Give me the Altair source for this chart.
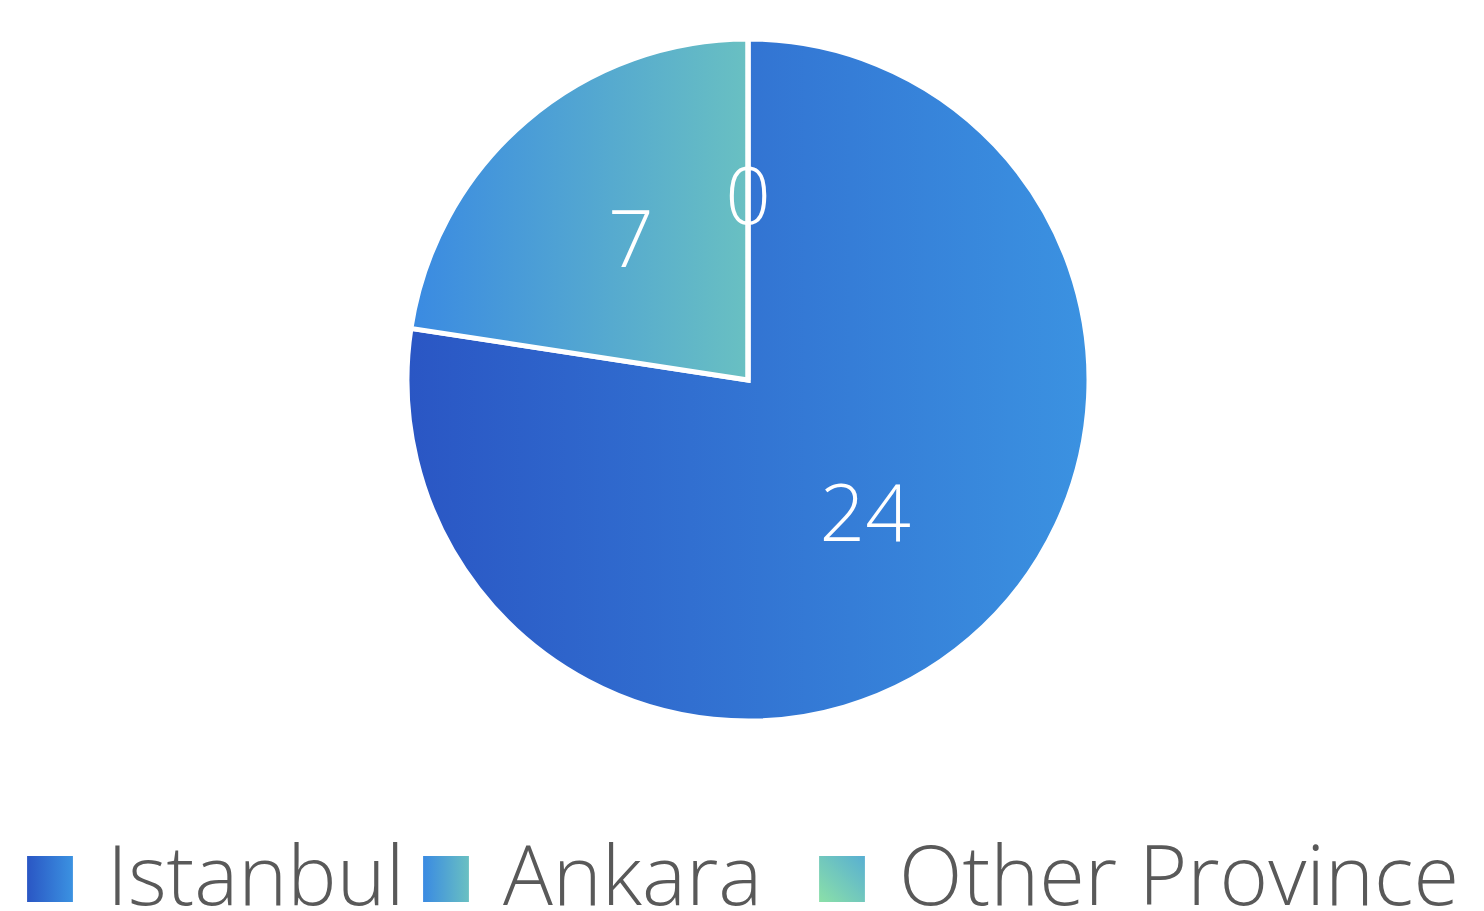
import altair as alt
import pandas as pd

categories = ["Istanbul", "Ankara", "Other Province"]
values = [24, 7, 0]
order = [1, 2, 3]

df = pd.DataFrame({"cat": categories, "value": values, "ord": order})


def grad(c0, c1, x1=0, y1=0, x2=1, y2=0):
    return {"gradient": "linear", "x1": x1, "y1": y1, "x2": x2, "y2": y2,
            "stops": [{"offset": 0, "color": c0}, {"offset": 1, "color": c1}]}


g_ist = grad("#2A56C4", "#3B92E1")
g_ank = grad("#3A8AE2", "#69C0C2")
g_oth = grad("#8BE0A8", "#58AFD2", 0, 1, 1, 0)

fill_rule = (alt.when(alt.datum.cat == "Istanbul").then(alt.value(g_ist))
             .when(alt.datum.cat == "Ankara").then(alt.value(g_ank))
             .otherwise(alt.value(g_oth)))

FONT = "Open Sans"

base = alt.Chart(df).encode(
    theta=alt.Theta("value:Q", stack=True),
    order=alt.Order("ord:Q", sort="ascending"),
    x=alt.value(740),
    y=alt.value(372),
)

pie = base.mark_arc(radius=341, stroke="white", strokeWidth=5).encode(fill=fill_rule)

labels = base.mark_text(radius=180, fontSize=80, font=FONT, fontWeight=300,
                        color="white").encode(text=alt.Text("value:Q"))

lx = alt.X("cat:N", sort=categories, axis=None,
           scale=alt.Scale(type="point", range=[42, 834], padding=0))

leg_sym = alt.Chart(df).mark_square(size=2100, strokeWidth=0, opacity=1).encode(
    x=lx, y=alt.value(871), fill=fill_rule)

leg_txt = alt.Chart(df).mark_text(align="left", baseline="alphabetic", dx=57,
                                  fontSize=83, font=FONT, fontWeight=300,
                                  color="#595959").encode(
    x=lx, y=alt.value(897), text="cat:N")

chart = alt.layer(pie, labels, leg_sym, leg_txt).properties(
    width=1468, height=895, padding=0
).configure_view(stroke=None)

chart.save("out.html", embed_options={"renderer": "svg", "actions": False})
